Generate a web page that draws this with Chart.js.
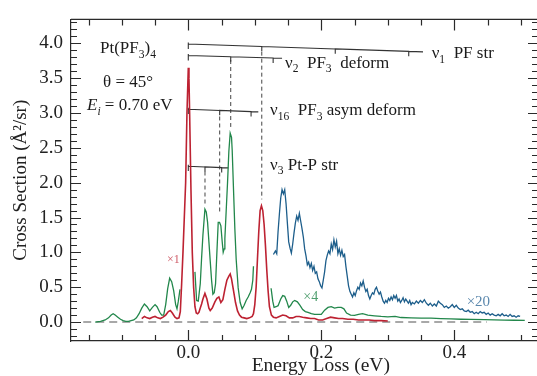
<!DOCTYPE html>
<html><head><meta charset="utf-8">
<script src="https://cdn.jsdelivr.net/npm/chart.js@4.4.1/dist/chart.umd.min.js"></script>
<style>
html,body{margin:0;padding:0;background:#fff;overflow:hidden}
#wrap{width:537px;height:376px;overflow:hidden;position:relative;background:#fff}
canvas{display:block}
</style></head><body>
<div id="wrap"><canvas id="c" width="546" height="376" style="width:546px;height:376px"></canvas></div>
<script>
// ---------- data ----------
const redTrace = [[-0.070,0.05],[-0.066,0.08],[-0.062,0.06],[-0.058,0.05],[-0.054,0.07],[-0.050,0.08],[-0.046,0.06],[-0.042,0.05],[-0.038,0.07],
[-0.034,0.10],[-0.030,0.15],[-0.027,0.165],[-0.024,0.13],[-0.020,0.07],[-0.017,0.05],[-0.014,0.06],[-0.012,0.15],[-0.010,0.55],
[-0.008,1.0],[-0.006,1.5],[-0.004,2.0],[-0.002,3.0],[0.000,3.65],[0.001,3.5],[0.002,3.0],[0.004,1.9],[0.006,1.0],[0.008,0.5],
[0.010,0.22],[0.012,0.13],[0.014,0.12],[0.016,0.14],[0.018,0.2],[0.020,0.26],[0.022,0.33],[0.025,0.41],[0.028,0.33],[0.031,0.2],
[0.033,0.165],[0.036,0.2],[0.040,0.29],[0.043,0.34],[0.046,0.36],[0.049,0.28],[0.052,0.32],[0.055,0.47],[0.058,0.6],[0.061,0.66],
[0.063,0.69],[0.065,0.62],[0.068,0.45],[0.071,0.28],[0.074,0.16],[0.077,0.1],[0.080,0.07],[0.084,0.06],[0.088,0.05],[0.092,0.06],
[0.096,0.08],[0.098,0.12],[0.100,0.25],[0.102,0.5],[0.104,0.9],[0.106,1.3],[0.108,1.6],[0.110,1.67],[0.112,1.6],[0.114,1.4],
[0.116,1.1],[0.118,0.75],[0.120,0.45],[0.122,0.22],[0.125,0.1],[0.128,0.07],[0.132,0.06],[0.137,0.08],[0.142,0.1],[0.147,0.09],
[0.152,0.06],[0.157,0.06],[0.162,0.08],[0.167,0.08],[0.172,0.07],[0.178,0.06],[0.184,0.05],[0.190,0.05],[0.196,0.03],[0.202,0.03],
[0.208,0.05],[0.214,0.07],[0.220,0.06],[0.226,0.05],[0.232,0.05],[0.240,0.04],[0.248,0.04],[0.256,0.03],[0.264,0.03],[0.272,0.03],
[0.280,0.02],[0.290,0.02],[0.300,0.015]];

const greenTrace = [[-0.140,0.00],[-0.132,0.01],[-0.125,0.03],[-0.120,0.06],[-0.116,0.10],[-0.113,0.12],[-0.110,0.10],[-0.106,0.07],
[-0.102,0.04],[-0.098,0.02],[-0.094,0.01],[-0.090,0.01],[-0.086,0.02],[-0.082,0.03],[-0.078,0.06],[-0.074,0.12],[-0.070,0.20],
[-0.066,0.26],[-0.062,0.22],[-0.058,0.16],[-0.054,0.21],[-0.050,0.25],[-0.047,0.22],[-0.043,0.14],[-0.040,0.10],[-0.037,0.10],
[-0.034,0.25],[-0.031,0.48],[-0.028,0.63],[-0.025,0.58],[-0.022,0.45],[-0.019,0.25],[-0.017,0.19],[-0.015,0.30],[-0.0125,0.47],
[-0.005,null],
[0.010,0.72],[0.0125,0.31],[0.015,0.30],[0.018,0.55],[0.020,0.92],[0.022,1.25],[0.025,1.62],[0.027,1.58],[0.029,1.43],[0.031,1.15],
[0.033,0.87],[0.035,0.60],[0.037,0.40],[0.039,0.42],[0.041,0.55],[0.043,1.0],[0.045,1.43],[0.047,1.43],[0.049,1.38],[0.051,1.15],
[0.0525,1.0],[0.054,1.05],[0.055,1.2],[0.057,1.6],[0.059,2.0],[0.061,2.45],[0.063,2.71],[0.065,2.65],[0.066,2.47],[0.068,1.9],
[0.070,1.34],[0.072,0.9],[0.075,0.49],[0.078,0.28],[0.081,0.19],[0.084,0.24],[0.087,0.31],[0.090,0.36],[0.093,0.42],[0.095,0.47],
[0.097,0.6],[0.098,0.8],
[0.110,null],
[0.1245,0.485],[0.127,0.30],[0.129,0.21],[0.132,0.22],[0.135,0.235],[0.139,0.33],[0.142,0.38],[0.145,0.37],[0.148,0.30],[0.151,0.21],
[0.154,0.24],[0.157,0.29],[0.160,0.31],[0.164,0.29],[0.168,0.24],[0.172,0.18],[0.176,0.15],[0.180,0.14],[0.185,0.12],[0.190,0.11],
[0.195,0.11],[0.200,0.11],[0.205,0.17],[0.210,0.21],[0.215,0.22],[0.220,0.20],[0.225,0.21],[0.230,0.21],[0.234,0.19],[0.238,0.13],
[0.244,0.10],[0.250,0.095],[0.256,0.11],[0.262,0.12],[0.270,0.10],[0.280,0.09],[0.290,0.08],[0.300,0.075],[0.311,0.08],[0.320,0.065],
[0.335,0.06],[0.350,0.055],[0.365,0.056],[0.380,0.05],[0.395,0.045],[0.410,0.04],[0.425,0.038],[0.446,0.034],[0.460,0.032],
[0.475,0.028],[0.490,0.026],[0.506,0.024]];

const blueTrace = [[0.128,0.97],[0.131,1.02],[0.133,0.98],[0.135,1.30],[0.137,1.55],[0.139,1.78],[0.141,1.90],[0.143,1.84],[0.145,1.90],
[0.147,1.70],[0.149,1.42],[0.151,1.15],[0.153,1.06],[0.155,0.99],[0.157,1.12],[0.159,1.28],[0.161,1.42],[0.163,1.52],[0.165,1.46],
[0.167,1.56],[0.169,1.45],[0.171,1.34],[0.173,1.22],[0.175,1.05],[0.177,0.95],[0.179,0.82],[0.181,0.86],[0.183,0.78],[0.185,0.84],
[0.187,0.74],[0.189,0.80],[0.191,0.70],[0.193,0.72],[0.195,0.62],[0.197,0.58],[0.199,0.52],[0.201,0.49],[0.203,0.60],[0.205,0.72],
[0.207,0.88],[0.209,0.96],[0.211,1.02],[0.213,0.98],[0.215,1.12],[0.217,1.04],[0.219,1.18],[0.221,1.08],[0.223,1.16],[0.225,0.98],
[0.227,1.05],[0.229,0.96],[0.231,1.03],[0.233,0.94],[0.235,0.97],[0.237,0.80],[0.239,0.66],[0.241,0.52],[0.243,0.44],[0.245,0.40],
[0.247,0.36],[0.249,0.42],[0.251,0.38],[0.253,0.45],[0.255,0.50],[0.257,0.47],[0.259,0.56],[0.261,0.52],[0.263,0.59],[0.265,0.50],
[0.267,0.44],[0.269,0.47],[0.271,0.38],[0.273,0.33],[0.275,0.38],[0.277,0.42],[0.279,0.40],[0.281,0.47],[0.283,0.50],[0.285,0.44],
[0.287,0.40],[0.289,0.43],[0.291,0.36],[0.293,0.30],[0.295,0.27],[0.297,0.31],[0.299,0.28],[0.301,0.34],[0.303,0.31],[0.305,0.36],
[0.307,0.32],[0.309,0.38],[0.311,0.34],[0.313,0.38],[0.315,0.30],[0.317,0.33],[0.319,0.28],[0.321,0.31],[0.323,0.35],[0.325,0.29],
[0.327,0.33],[0.329,0.30],[0.331,0.27],[0.333,0.31],[0.335,0.25],[0.337,0.28],[0.340,0.26],[0.343,0.30],[0.346,0.27],[0.349,0.31],
[0.352,0.28],[0.355,0.32],[0.358,0.27],[0.361,0.24],[0.364,0.27],[0.367,0.23],[0.370,0.26],[0.373,0.23],[0.376,0.30],[0.379,0.27],
[0.382,0.25],[0.385,0.21],[0.388,0.23],[0.391,0.20],[0.394,0.22],[0.397,0.25],[0.400,0.21],[0.403,0.24],[0.406,0.20],[0.409,0.18],
[0.412,0.19],[0.415,0.16],[0.418,0.15],[0.421,0.17],[0.424,0.14],[0.427,0.15],[0.430,0.12],[0.433,0.14],[0.436,0.12],[0.439,0.15],
[0.442,0.13],[0.445,0.14],[0.448,0.11],[0.451,0.13],[0.454,0.10],[0.457,0.12],[0.460,0.10],[0.463,0.09],[0.466,0.11],[0.469,0.09],
[0.472,0.12],[0.475,0.09],[0.478,0.10],[0.481,0.08],[0.484,0.11],[0.487,0.08],[0.490,0.09],[0.493,0.07],[0.496,0.09],[0.499,0.08]];

const zeroLine = [[-0.158,0],[0.449,0]];

// vibrational progressions: quantum, number of ticks, end energy, level at origin, level at end
const combNu1  = {q:0.1105, n:3, end:0.353, y0:3.990, y1:3.877};
const combNu2  = {q:0.0638, n:2, end:0.141, y0:3.825, y1:3.785};
const combNu16 = {q:0.0472, n:2, end:0.1053, y0:3.054, y1:3.016};
const combNu3  = {q:0.0251, n:2, end:0.0602, y0:2.236, y1:2.212};
const dropLines = [[0.1105,3.88,1.76],[0.0638,3.76,2.80],[0.0472,2.95,1.57],[0.0251,2.16,1.70]];

const xLabelTicks = [0, 0.2, 0.4];
const xMinorTicks = [-0.15,-0.1,-0.05,0.05,0.1,0.15,0.25,0.3,0.35,0.45,0.5];
const yLabelTicks = [0,0.5,1.0,1.5,2.0,2.5,3.0,3.5,4.0];
const yMinorTicks = [-0.2,-0.1,0.1,0.2,0.3,0.4,0.6,0.7,0.8,0.9,1.1,1.2,1.3,1.4,1.6,1.7,1.8,1.9,2.1,2.2,2.3,2.4,2.6,2.7,2.8,2.9,3.1,3.2,3.3,3.4,3.6,3.7,3.8,3.9,4.1,4.2,4.3];
const xTitle = 'Energy Loss (eV)';
const yTitle = 'Cross Section (Å²/sr)';

// ---------- helpers ----------
const pts = arr => arr.map(([x, y]) => ({x, y}));
const TICKDROP = 0.07;
function combPoints(c) {
  const lv = e => c.y0 + (c.y1 - c.y0) * e / c.end;
  const out = [{x:0, y:c.y0 + 0.02}, {x:0, y:c.y0 - TICKDROP}, {x:0, y:c.y0}];
  for (let k = 1; k <= c.n; k++) {
    const e = k * c.q;
    out.push({x:e, y:lv(e)}, {x:e, y:lv(e) - TICKDROP}, {x:e, y:lv(e)});
  }
  out.push({x:c.end, y:c.y1});
  return out;
}
const FONT = '"Liberation Serif", "Times New Roman", serif';

const annotations = [
  {x:-0.1328, y:3.863, size:17, parts:[['Pt(PF'],['3','sub'],[')'],['4','sub']]},
  {x:-0.1283, y:3.369, size:17, parts:[['θ = 45°']]},
  {x:-0.1523, y:3.045, size:17, parts:[['E','it'],['i','subit'],[' = 0.70 eV']]},
  {x:0.366,  y:3.792, size:17, parts:[['ν'],['1','sub'],['  PF str']]},
  {x:0.1454, y:3.651, size:17, parts:[['ν'],['2','sub'],['  PF'],['3','sub'],['  deform']]},
  {x:0.1229, y:2.974, size:17, parts:[['ν'],['16','sub'],['  PF'],['3','sub'],[' asym deform']]},
  {x:0.1229, y:2.188, size:17, parts:[['ν'],['3','sub'],[' Pt-P str']]},
  {x:-0.032, y:0.847, size:12, color:'#cf5c68', parts:[['×1']]},
  {x:0.173,  y:0.296, size:14, color:'#4f9e6e', parts:[['×4']]},
  {x:0.4186, y:0.236, size:15, color:'#5b88ad', parts:[['×20']]}
];

const textPlugin = {
  id: 'richText',
  afterDatasetsDraw(chart) {
    const {ctx, scales:{x, y}} = chart;
    ctx.save();
    ctx.textBaseline = 'alphabetic';
    ctx.textAlign = 'left';
    annotations.forEach(a => {
      let px = x.getPixelForValue(a.x);
      const py = y.getPixelForValue(a.y);
      ctx.fillStyle = a.color || '#1a1a1a';
      a.parts.forEach(([t, st]) => {
        const sub = st === 'sub' || st === 'subit';
        const it = st === 'it' || st === 'subit';
        const sz = sub ? a.size * 0.68 : a.size;
        ctx.font = (it ? 'italic ' : '') + sz + 'px ' + FONT;
        ctx.fillText(t, px, py + (sub ? a.size * 0.28 : 0));
        px += ctx.measureText(t).width;
      });
    });
    // x-axis title, placed as in the original figure (slightly right of centre, clipped at the bottom)
    ctx.font = '19.5px ' + FONT;
    ctx.fillStyle = '#222';
    ctx.textAlign = 'center';
    ctx.fillText(xTitle, x.getPixelForValue(0.2) - 0.5, 371);
    ctx.restore();
  }
};

const framePlugin = {
  id: 'frameTicks',
  afterDraw(chart) {
    const {ctx, chartArea:a, scales:{x, y}} = chart;
    ctx.save();
    ctx.strokeStyle = '#2a2a2a';
    ctx.lineWidth = 1.2;
    ctx.beginPath();
    ctx.moveTo(a.left, a.top); ctx.lineTo(a.right, a.top); ctx.lineTo(a.right, a.bottom);
    const vt = (v, len) => { const p = Math.round(x.getPixelForValue(v)) + 0.5;
      ctx.moveTo(p, a.bottom); ctx.lineTo(p, a.bottom - len);
      ctx.moveTo(p, a.top); ctx.lineTo(p, a.top + len); };
    const ht = (v, len) => { const p = Math.round(y.getPixelForValue(v)) + 0.5;
      ctx.moveTo(a.left, p); ctx.lineTo(a.left + len, p);
      ctx.moveTo(a.right, p); ctx.lineTo(a.right - len, p); };
    xLabelTicks.forEach(v => vt(v, 11));
    xMinorTicks.forEach(v => vt(v, 6));
    yLabelTicks.forEach(v => ht(v, 10));
    yMinorTicks.forEach(v => ht(v, 6));
    ctx.stroke();
    ctx.restore();
  }
};

const lineDS = (data, color, width, extra) => Object.assign({
  data, borderColor: color, borderWidth: width, pointRadius: 0, showLine: true,
  fill: false, tension: 0, spanGaps: false
}, extra || {});

const datasets = [
  lineDS(pts(redTrace), '#bd2232', 1.6),
  lineDS(pts(greenTrace), '#22874b', 1.3),
  lineDS(pts(blueTrace), '#1d5e8b', 1.3),
  lineDS(pts(zeroLine), '#8c8c8c', 1.6, {borderDash:[8,5]}),
  lineDS(combPoints(combNu1), '#333', 1.1),
  lineDS(combPoints(combNu2), '#333', 1.1),
  lineDS(combPoints(combNu16), '#333', 1.1),
  lineDS(combPoints(combNu3), '#333', 1.1),
  ...dropLines.map(([e, a, b]) => lineDS([{x:e, y:a}, {x:e, y:b}], '#444', 1.0, {borderDash:[4,3]}))
];

new Chart(document.getElementById('c'), {
  type: 'scatter',
  data: { datasets },
  options: {
    responsive: false, animation: false, devicePixelRatio: 1,
    layout: { padding: {left:0, top:14, right:8, bottom:0} },
    plugins: { legend:{display:false}, tooltip:{enabled:false} },
    scales: {
      x: {
        type:'linear', min:-0.1764, max:0.5259,
        afterBuildTicks: s => { s.ticks = xLabelTicks.map(v => ({value:v})); },
        afterFit: s => { s.height = 35; },
        grid: {display:false, drawTicks:false},
        border: {display:true, color:'#2a2a2a', width:1.2},
        ticks: {callback: v => v.toFixed(1), font:{family:FONT, size:19}, color:'#222', padding:1, maxRotation:0},
        title: {display:false}
      },
      y: {
        type:'linear', min:-0.272, max:4.343,
        afterBuildTicks: s => { s.ticks = yLabelTicks.map(v => ({value:v})); },
        afterFit: s => { s.width = 71; },
        grid: {display:false, drawTicks:false},
        border: {display:true, color:'#2a2a2a', width:1.2},
        ticks: {callback: v => v.toFixed(1), font:{family:FONT, size:19}, color:'#222', padding:8},
        title: {display:true, text:yTitle, font:{family:FONT, size:19}, color:'#222', padding:{top:10, bottom:0}}
      }
    }
  },
  plugins: [textPlugin, framePlugin]
});
</script></body></html>
